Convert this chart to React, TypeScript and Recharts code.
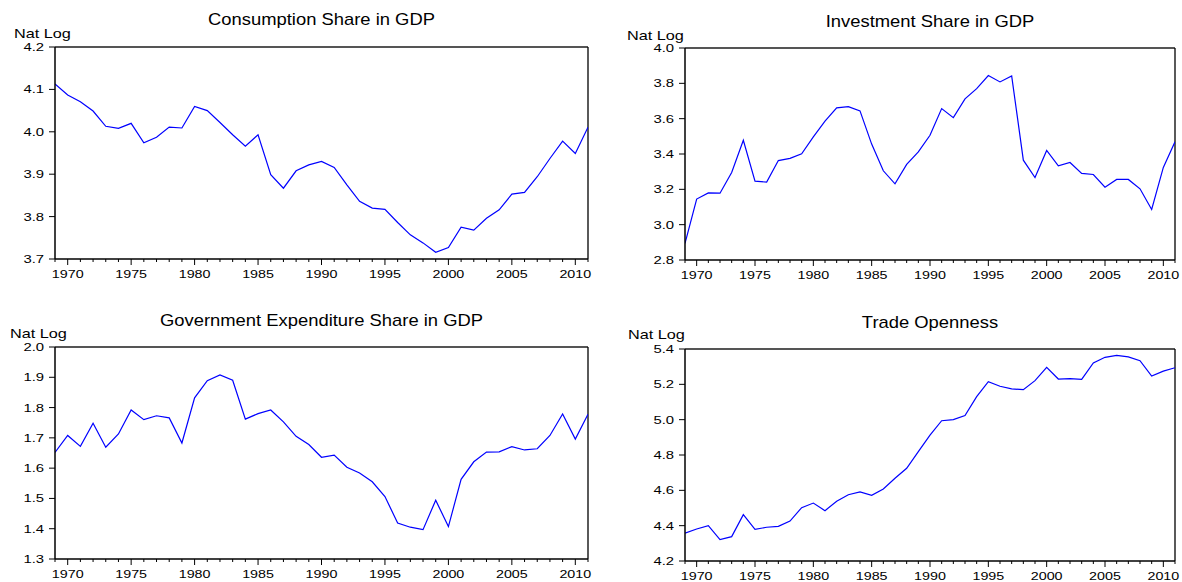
import React from "react";
import { LineChart, Line, XAxis, YAxis, ReferenceLine } from "recharts";

const years = [
  1969, 1970, 1971, 1972, 1973, 1974, 1975, 1976, 1977, 1978, 1979, 1980, 1981, 1982, 1983,
  1984, 1985, 1986, 1987, 1988, 1989, 1990, 1991, 1992, 1993, 1994, 1995, 1996, 1997, 1998,
  1999, 2000, 2001, 2002, 2003, 2004, 2005, 2006, 2007, 2008, 2009, 2010, 2011,
];

const consumption = [
  4.113, 4.087, 4.071, 4.049, 4.013, 4.008, 4.02, 3.974, 3.987, 4.011, 4.009, 4.06, 4.05, 4.022,
  3.993, 3.966, 3.993, 3.899, 3.867, 3.908, 3.922, 3.93, 3.916, 3.875, 3.836, 3.82, 3.817, 3.786,
  3.757, 3.738, 3.716, 3.727, 3.775, 3.768, 3.796, 3.816, 3.853, 3.857, 3.894, 3.937, 3.978,
  3.949, 4.011,
];

const investment = [
  2.894, 3.145, 3.18, 3.178, 3.295, 3.478, 3.246, 3.241, 3.363, 3.375, 3.401, 3.497, 3.586,
  3.661, 3.668, 3.644, 3.456, 3.305, 3.231, 3.341, 3.412, 3.506, 3.657, 3.606, 3.712, 3.77,
  3.844, 3.808, 3.842, 3.365, 3.267, 3.42, 3.333, 3.352, 3.29, 3.284, 3.212, 3.256, 3.256,
  3.203, 3.086, 3.324, 3.469,
];

const government = [
  1.652, 1.708, 1.672, 1.748, 1.669, 1.713, 1.792, 1.76, 1.773, 1.766, 1.683, 1.832, 1.889,
  1.908, 1.89, 1.762, 1.78, 1.792, 1.753, 1.705, 1.678, 1.636, 1.643, 1.603, 1.584, 1.555,
  1.506, 1.419, 1.405, 1.397, 1.494, 1.407, 1.563, 1.621, 1.653, 1.654, 1.671, 1.66, 1.664,
  1.708, 1.779, 1.696, 1.778,
];

const trade = [
  4.357, 4.381, 4.4, 4.321, 4.338, 4.462, 4.379, 4.391, 4.396, 4.426, 4.502, 4.528, 4.485,
  4.538, 4.575, 4.591, 4.572, 4.608, 4.668, 4.725, 4.819, 4.913, 4.994, 5.0, 5.023, 5.13,
  5.215, 5.189, 5.174, 5.17, 5.221, 5.296, 5.23, 5.232, 5.228, 5.321, 5.353, 5.364, 5.355,
  5.334, 5.247, 5.275, 5.294,
];

const xLabelYears = [1970, 1975, 1980, 1985, 1990, 1995, 2000, 2005, 2010];
const ticksConsumption = [3.7, 3.8, 3.9, 4.0, 4.1, 4.2];
const ticksInvestment = [2.8, 3.0, 3.2, 3.4, 3.6, 3.8, 4.0];
const ticksGovernment = [1.3, 1.4, 1.5, 1.6, 1.7, 1.8, 1.9, 2.0];
const ticksTrade = [4.2, 4.4, 4.6, 4.8, 5.0, 5.2, 5.4];

const titles = [
  "Consumption Share in GDP",
  "Investment Share in GDP",
  "Government Expenditure Share in GDP",
  "Trade Openness",
];
const yUnit = "Nat Log";

const FONT = "'Liberation Sans', Arial, sans-serif";

const XTick = (props: any) => {
  const { x, y, payload } = props;
  const v = payload.value;
  const major = v % 5 === 0;
  return (
    <g>
      <line x1={x} x2={x} y1={y} y2={y + (major ? 6 : 3)} stroke="#000" strokeWidth={1} />
      {major && xLabelYears.includes(v) ? (
        <g transform={`translate(${x},${y + 19}) scale(1.3,1)`}>
          <text x={0} y={0} textAnchor="middle" fontSize={11} fontFamily={FONT} fill="#000">
            {v}
          </text>
        </g>
      ) : null}
    </g>
  );
};

const YTick = (props: any) => {
  const { x, y, payload } = props;
  return (
    <g>
      <line x1={x - 6} x2={x} y1={y} y2={y} stroke="#000" strokeWidth={1} />
      <g transform={`translate(${x - 11},${y}) scale(1.35,1)`}>
        <text x={0} y={0} dy="0.36em" textAnchor="end" fontSize={11} fontFamily={FONT} fill="#000">
          {Number(payload.value).toFixed(1)}
        </text>
      </g>
    </g>
  );
};

type PanelProps = {
  values: number[];
  ticks: number[];
  left: number;
  top: number;
  width: number;
  height: number;
  yWidth: number;
  margin: { top: number; right: number; bottom: number; left: number };
};

const Panel = ({ values, ticks, left, top, width, height, yWidth, margin }: PanelProps) => {
  const data = years.map((yr, i) => ({ year: yr, value: values[i] }));
  const yMin = ticks[0];
  const yMax = ticks[ticks.length - 1];
  return (
    <div style={{ position: "absolute", left, top, width, height }}>
      <LineChart width={width} height={height} data={data} margin={margin}>
        <XAxis
          dataKey="year"
          type="number"
          domain={[1969, 2011]}
          ticks={years}
          interval={0}
          height={20}
          tickSize={0}
          tickMargin={0}
          tickLine={false}
          axisLine={{ stroke: "#000", strokeWidth: 1.3 }}
          tick={<XTick />}
          allowDataOverflow
        />
        <YAxis
          type="number"
          domain={[yMin, yMax]}
          ticks={ticks}
          interval={0}
          width={yWidth}
          tickSize={0}
          tickMargin={0}
          tickLine={false}
          axisLine={{ stroke: "#000", strokeWidth: 1.5 }}
          tick={<YTick />}
          allowDataOverflow
        />
        <ReferenceLine y={yMax} stroke="#555" strokeWidth={2} ifOverflow="extendDomain" />
        <ReferenceLine x={2011} stroke="#000" strokeWidth={1.3} />
        <Line
          type="linear"
          dataKey="value"
          stroke="#0000ff"
          strokeWidth={1.2}
          dot={false}
          activeDot={false}
          isAnimationActive={false}
        />
      </LineChart>
    </div>
  );
};

const Label = ({ x, y, text, size, sx, anchor }: any) => (
  <g transform={`translate(${x},${y}) scale(${sx},1)`}>
    <text x={0} y={0} textAnchor={anchor} fontSize={size} fontFamily={FONT} fill="#000">
      {text}
    </text>
  </g>
);

export default function App() {
  return (
    <div
      style={{
        position: "fixed",
        left: 0,
        top: 0,
        width: 1182,
        height: 582,
        background: "#fff",
        overflow: "hidden",
      }}
    >
      <Panel
        values={consumption}
        ticks={ticksConsumption}
        left={0}
        top={0}
        width={600}
        height={290}
        yWidth={55}
        margin={{ top: 47, right: 12, bottom: 11, left: 0 }}
      />
      <Panel
        values={investment}
        ticks={ticksInvestment}
        left={600}
        top={0}
        width={582}
        height={290}
        yWidth={85}
        margin={{ top: 48, right: 7, bottom: 10, left: 0 }}
      />
      <Panel
        values={government}
        ticks={ticksGovernment}
        left={0}
        top={300}
        width={600}
        height={282}
        yWidth={55}
        margin={{ top: 47, right: 12, bottom: 3, left: 0 }}
      />
      <Panel
        values={trade}
        ticks={ticksTrade}
        left={600}
        top={300}
        width={582}
        height={282}
        yWidth={85}
        margin={{ top: 49, right: 7, bottom: 1, left: 0 }}
      />
      <svg
        width={1182}
        height={582}
        style={{ position: "absolute", left: 0, top: 0, pointerEvents: "none" }}
      >
        <Label x={321.5} y={25} text={titles[0]} size={16} sx={1.15} anchor="middle" />
        <Label x={930} y={26.5} text={titles[1]} size={16} sx={1.15} anchor="middle" />
        <Label x={321.5} y={325.5} text={titles[2]} size={16} sx={1.15} anchor="middle" />
        <Label x={930} y={327.5} text={titles[3]} size={16} sx={1.15} anchor="middle" />
        <Label x={14} y={38.3} text={yUnit} size={12.5} sx={1.3} anchor="start" />
        <Label x={627} y={40} text={yUnit} size={12.5} sx={1.3} anchor="start" />
        <Label x={10} y={337.7} text={yUnit} size={12.5} sx={1.3} anchor="start" />
        <Label x={628} y={339.3} text={yUnit} size={12.5} sx={1.3} anchor="start" />
      </svg>
    </div>
  );
}
